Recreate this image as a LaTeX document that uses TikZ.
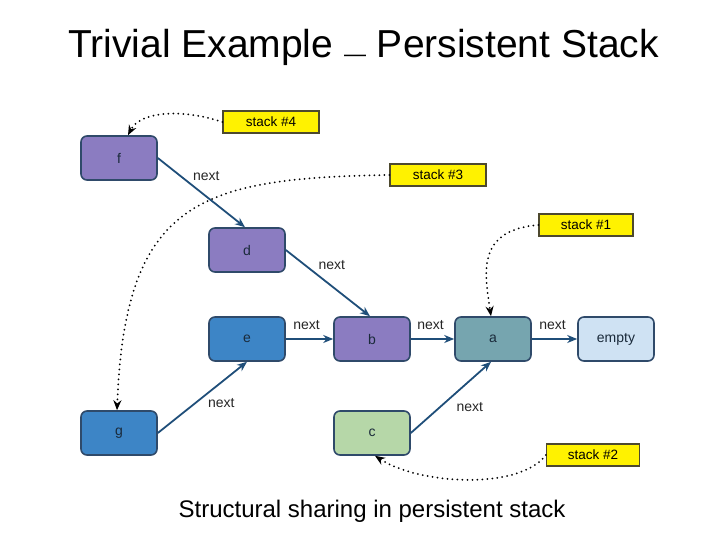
\documentclass[tikz,border=0pt]{standalone}
\usepackage{fontspec}
\setmainfont{Liberation Sans}
\usetikzlibrary{arrows.meta,calc}
\definecolor{purp}{HTML}{8B7CC1}
\definecolor{blu}{HTML}{3D85C6}
\definecolor{teal2}{HTML}{76A5AF}
\definecolor{lblue}{HTML}{CFE2F3}
\definecolor{lgreen}{HTML}{B6D7A8}
\definecolor{bord}{HTML}{2F4A6A}
\definecolor{arr}{HTML}{1F4E79}
\definecolor{txt}{HTML}{1A2A3A}
\tikzset{
  box/.style={draw=bord, line width=1.6pt, rounded corners=6pt, minimum width=76pt, minimum height=44pt, inner sep=0pt, font=\fontsize{14}{14}\selectfont, text=txt},
  stk/.style={draw=black!60!olive, line width=1.2pt, fill=yellow, minimum width=96pt, minimum height=22pt, inner sep=0pt, font=\fontsize{13.5}{13.5}\selectfont},
  nxt/.style={draw=arr, line width=1.8pt, -{Stealth[length=10pt,width=8pt]}},
  ptr/.style={draw=black, line width=2pt, dash pattern=on 0pt off 5pt, line cap=round, -{Stealth[length=10pt,width=8pt]}},
  lbl/.style={font=\fontsize{14}{14}\selectfont, text=black!85, inner sep=0pt}
}
\begin{document}
\begin{tikzpicture}[x=1pt,y=-1pt]
\useasboundingbox (0,0) rectangle (728,546);
\node[anchor=base west, inner sep=0pt, font=\fontsize{39}{39}\selectfont] (title) at (68,57) {Trivial Example {\fontsize{22}{22}\selectfont\raisebox{-4pt}{—}} Persistent Stack};
\node[box, fill=purp] (f) at (119,158) {f};
\node[box, fill=purp] (d) at (247,250) {d};
\node[box, fill=blu] (e) at (247,339) {e};
\node[box, fill=purp] (b) at (372,339) {b};
\node[box, fill=teal2] (a) at (493,339) {a};
\node[box, fill=lblue] (empty) at (616,339) {empty};
\node[box, fill=blu] (g) at (119,433) {g};
\node[box, fill=lgreen] (c) at (372,433) {c};
\node[stk] (s4) at (271,122) {stack \#4};
\node[stk] (s3) at (438,175) {stack \#3};
\node[stk, minimum width=94pt] (s1) at (586,225) {stack \#1};
\node[stk, minimum width=93pt] (s2) at (593,455) {stack \#2};
\draw[nxt] (f.east) -- node[lbl, pos=0.5, xshift=5pt, yshift=17pt] {next} ($(d.north)+(-2,0)$);
\draw[nxt] (d.east) -- node[lbl, pos=0.5, xshift=4pt, yshift=18pt] {next} ($(b.north)+(-2,0)$);
\draw[nxt] (e.east) -- node[lbl, pos=0.5, xshift=-3pt, yshift=14pt] {next} (b.west);
\draw[nxt] (b.east) -- node[lbl, pos=0.5, xshift=-2pt, yshift=14pt] {next} (a.west);
\draw[nxt] (a.east) -- node[lbl, pos=0.5, xshift=-2pt, yshift=14pt] {next} (empty.west);
\draw[nxt] (g.east) -- node[lbl, pos=0.5, xshift=19pt, yshift=-6pt] {next} (e.south);
\draw[nxt] (c.east) -- node[lbl, pos=0.5, xshift=19pt, yshift=-10pt] {next} ($(a.south)+(-2,0)$);
\coordinate (fT) at ($(f.north)+(9,0)$);
\coordinate (gT) at ($(g.north)+(-2,0)$);
\coordinate (aT) at ($(a.north)+(-2,0)$);
\coordinate (cB) at ($(c.south)+(3,0)$);
\draw[ptr] (s4.west) .. controls (180,108) and (140,112) .. (fT);
\draw[ptr] (s3.west) .. controls (200,178) and (125,200) .. (gT);
\draw[ptr] (s1.west) .. controls (475,230) and (485,275) .. (aT);
\draw[ptr] (s2.west) .. controls (520,490) and (420,485) .. (cB);
\node[anchor=base, inner sep=0pt, font=\fontsize{24}{24}\selectfont] (cap) at (372,517) {Structural sharing in persistent stack};
\end{tikzpicture}
\end{document}
